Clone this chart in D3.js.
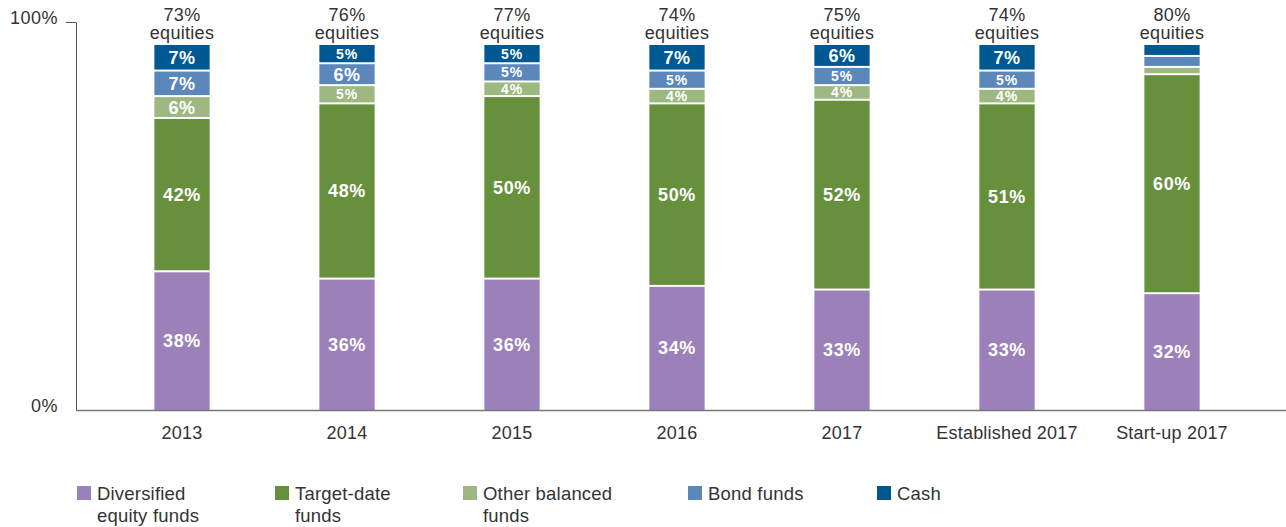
<!DOCTYPE html>
<html><head><meta charset="utf-8">
<script src="https://cdn.jsdelivr.net/npm/d3@7"></script>
<style>
body{margin:0;background:#fff;}
svg{display:block;font-family:"Liberation Sans",Arial,sans-serif;}
</style></head><body>
<svg id="chart" width="1286" height="527"></svg>
<script>
const categories = ["2013","2014","2015","2016","2017","Established 2017","Start-up 2017"];
const equities = [73,76,77,74,75,74,80];
const diversified = [38,36,36,34,33,33,32];
const targetDate = [42,48,50,50,52,51,60];
const otherBalanced = [6,5,4,4,4,4,2];
const bondFunds = [7,6,5,5,5,5,3];
const cash = [7,5,5,7,6,7,3];
const seriesNames = ["Diversified equity funds","Target-date funds","Other balanced funds","Bond funds","Cash"];
const legendLines = [["Diversified","equity funds"],["Target-date","funds"],["Other balanced","funds"],["Bond funds"],["Cash"]];
const colors = ["#9c80ba","#67903c","#9db880","#5b87bb","#005892"];
const axisTicks = [0,100];

const svg = d3.select("#chart");
const seriesData = [diversified,targetDate,otherBalanced,bondFunds,cash];
const rows = categories.map((c,i)=>{const r={cat:c}; seriesNames.forEach((s,j)=>r[s]=seriesData[j][i]); return r;});
const stack = d3.stack().keys(seriesNames)(rows);

const x = d3.scaleBand().domain(categories).range([99.5,1254.5]).paddingInner(0.665).paddingOuter(0.3325);
const y = d3.scaleLinear().domain([0,100]).range([410,45]);
const yAxisScale = d3.scaleLinear().domain([0,100]).range([410,22]);

// axis
const ya = svg.append("g").attr("transform","translate(76,0)")
  .call(d3.axisLeft(yAxisScale).tickValues(axisTicks).tickFormat(d=>d+"%").tickSize(10).tickSizeOuter(0).tickPadding(8));
ya.select(".domain").attr("stroke","#555");
ya.selectAll(".tick line").attr("stroke","#555").filter(d=>d===0).remove();
ya.selectAll(".tick text").attr("font-size",18).attr("letter-spacing","0.5px").attr("fill","#333").attr("font-family","Liberation Sans, Arial, sans-serif").attr("dy","0.1em");

// bars
const g = svg.append("g");
stack.forEach((layer,j)=>{
  g.selectAll(null).data(layer).enter().append("rect")
    .attr("x",d=>x(d.data.cat)).attr("width",x.bandwidth())
    .attr("y",d=>y(d[1])+ (j===4?0:1)).attr("height",d=>Math.max(0,y(d[0])-y(d[1])-(j===4?1:2)+(j===0?1:0)))
    .attr("fill",colors[j]);
  g.selectAll(null).data(layer.filter(d=>d[1]-d[0]>=4)).enter().append("text")
    .attr("x",d=>x(d.data.cat)+x.bandwidth()/2).attr("y",d=>(y(d[0])+y(d[1]))/2)
    .attr("dy","0.36em").attr("text-anchor","middle").attr("fill","#fff")
    .attr("font-weight","bold").attr("font-size",d=>(d[1]-d[0])<=5?14:18)
    .attr("letter-spacing",d=>(d[1]-d[0])<=5?"0.8px":"0.6px").text(d=>(d[1]-d[0])+"%");
});

// baseline
svg.append("line").attr("x1",76).attr("x2",1286).attr("y1",410.5).attr("y2",410.5).attr("stroke","#777").attr("stroke-width",1.5);

// equities labels
categories.forEach((c,i)=>{
  const cx = x(c)+x.bandwidth()/2;
  svg.append("text").attr("x",cx).attr("y",21).attr("text-anchor","middle").attr("font-size",18).attr("letter-spacing","0.3px").attr("fill","#333").text(equities[i]+"%");
  svg.append("text").attr("x",cx).attr("y",39).attr("text-anchor","middle").attr("font-size",18).attr("letter-spacing","0.3px").attr("fill","#333").text("equities");
});

// x axis
const xa = svg.append("g").attr("transform","translate(0,411)")
  .call(d3.axisBottom(x).tickSize(0).tickPadding(15));
xa.select(".domain").remove();
xa.selectAll(".tick text").attr("font-size",18).attr("letter-spacing","0.2px").attr("fill","#333").attr("font-family","Liberation Sans, Arial, sans-serif");

// legend
const legendX = [77,275,463,688,877];
seriesNames.forEach((s,j)=>{
  const lg = svg.append("g").attr("transform",`translate(${legendX[j]},486)`);
  lg.append("rect").attr("width",14).attr("height",14).attr("fill",colors[j]);
  legendLines[j].forEach((t,k)=>{
    lg.append("text").attr("x",20).attr("y",13.5+k*22).attr("font-size",18.5).attr("letter-spacing","0.2px").attr("fill","#333").text(t);
  });
});
</script>
</body></html>
